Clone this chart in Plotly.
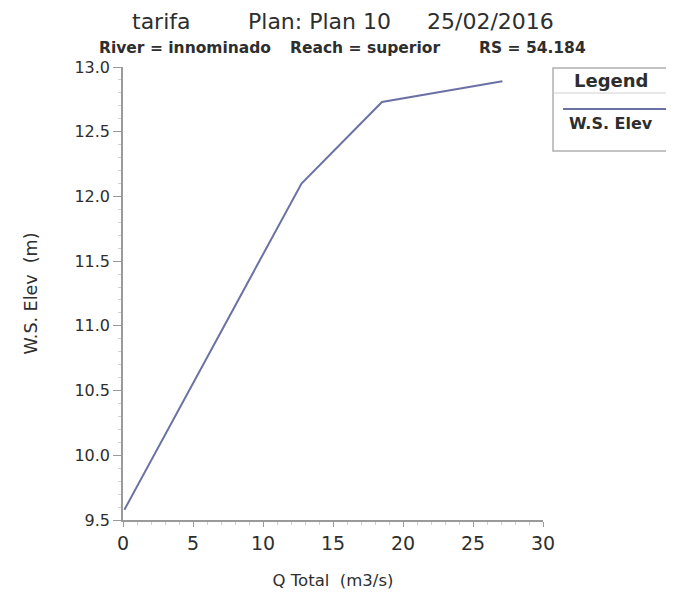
import plotly.graph_objects as go

q_total = [0.1, 12.75, 18.5, 27.1]
ws_elev = [9.58, 12.10, 12.73, 12.89]
x_ticks = [0, 5, 10, 15, 20, 25, 30]
y_ticks = [9.5, 10.0, 10.5, 11.0, 11.5, 12.0, 12.5, 13.0]

FONT = "DejaVu Sans, Arial, sans-serif"
TXT = "#2e2e2e"
AX = "#9a9a9a"

fig = go.Figure()
fig.add_trace(go.Scatter(x=q_total, y=ws_elev, mode="lines",
                         line=dict(color="#6b72a3", width=2),
                         name="W.S. Elev", showlegend=False))

fig.update_layout(
    width=674, height=603,
    margin=dict(l=115, r=139, t=59, b=91, autoexpand=False),
    paper_bgcolor="white", plot_bgcolor="white",
    font=dict(family=FONT, color=TXT, size=16),
    xaxis=dict(range=[0, 30], tickvals=x_ticks, ticktext=[str(v) for v in x_ticks],
               showgrid=False, zeroline=False, showline=True, linecolor=AX, linewidth=1.5,
               ticks="outside", ticklen=5, tickcolor=AX,
               minor=dict(dtick=1, ticks="outside", ticklen=3, tickcolor="#d0d0d0"),
               tickfont=dict(size=19, color=TXT),
               title=dict(text="Q Total  (m3/s)", font=dict(size=16.5, color=TXT), standoff=22)),
    yaxis=dict(range=[9.5, 13.0], tickvals=y_ticks, ticktext=[f"{v:.1f}" for v in y_ticks],
               showgrid=False, zeroline=False, showline=True, linecolor=AX, linewidth=1.5,
               ticks="outside", ticklen=8, tickcolor=AX,
               minor=dict(dtick=0.1, ticks="outside", ticklen=3, tickcolor="#d0d0d0"),
               tickfont=dict(size=16, color=TXT),
               title=dict(text="W.S. Elev  (m)", font=dict(size=17.5, color=TXT), standoff=32)),
)


def px(xp):
    return (xp - 123) / 420


def py(yp):
    return (520 - yp) / 453


def label(text, x, y, size, bold=False):
    fig.add_annotation(text=f"<b>{text}</b>" if bold else text,
                       xref="paper", yref="paper", x=px(x), y=py(y),
                       showarrow=False, font=dict(size=size, color=TXT, family=FONT),
                       xanchor="center", yanchor="middle")


# Titles
label("tarifa", 161.5, 22, 22)
label("Plan: Plan 10", 319, 22, 22)
label("25/02/2016", 490, 22, 22)
label("River = innominado", 185, 48, 15.5, bold=True)
label("Reach = superior", 365, 48, 15.5, bold=True)
label("RS = 54.184", 532, 48, 15.5, bold=True)

# Legend box
fig.add_shape(type="rect", xref="paper", yref="paper",
              x0=px(553), x1=px(690), y0=py(151), y1=py(68),
              line=dict(color="#b0b0b0", width=1.5), fillcolor="white", layer="above")
fig.add_shape(type="line", xref="paper", yref="paper",
              x0=px(553), x1=px(690), y0=py(93), y1=py(93),
              line=dict(color="#d0d0d0", width=1))
fig.add_shape(type="line", xref="paper", yref="paper",
              x0=px(563), x1=px(668), y0=py(109), y1=py(109),
              line=dict(color="#6b72a3", width=2))
label("Legend", 611, 80, 18, bold=True)
label("W.S. Elev", 611, 124, 16, bold=True)

fig.write_html("out.html")
